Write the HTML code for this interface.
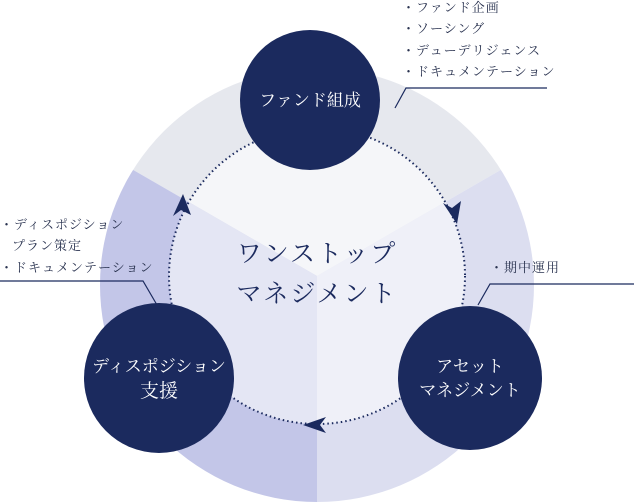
<!DOCTYPE html>
<html><head><meta charset="utf-8"><style>
html,body{margin:0;padding:0;background:#fff;width:634px;height:502px;overflow:hidden}
svg{display:block}
text{font-family:"Liberation Serif","Noto Serif CJK SC",serif}
</style></head><body>
<svg width="634" height="502" viewBox="0 0 634 502" xmlns="http://www.w3.org/2000/svg">
<defs>
<clipPath id="big"><circle cx="317" cy="285" r="217"/></clipPath>
<clipPath id="inner"><circle cx="317" cy="276" r="148"/></clipPath>
</defs>
<g clip-path="url(#big)">
<polygon points="317,276 0,93 0,0 634,0 634,93" fill="#e6e8ee"/>
<polygon points="317,276 0,93 0,502 317,502" fill="#c3c6e8"/>
<polygon points="317,276 634,93 634,502 317,502" fill="#dcdef0"/>
</g>
<g clip-path="url(#inner)">
<polygon points="317,276 0,93 0,0 634,0 634,93" fill="#f5f6f9"/>
<polygon points="317,276 0,93 0,502 317,502" fill="#e4e6f4"/>
<polygon points="317,276 634,93 634,502 317,502" fill="#eff0f8"/>
</g>
<circle cx="317" cy="276" r="148" fill="none" stroke="#1b2a5e" stroke-width="2" stroke-dasharray="1.5 3"/>
<polygon points="457,224 443,203 452,208 461,201" fill="#1b2a5e"/>
<polygon points="183,194 173,216 181,210 191,215" fill="#1b2a5e"/>
<polygon points="303,425 326,417 320,425 326,433" fill="#1b2a5e"/>
<polyline points="395,108 406,88 547,88" fill="none" stroke="#1b2a5e" stroke-width="1.2"/>
<polyline points="478,305 490,284 634,284" fill="none" stroke="#1b2a5e" stroke-width="1.2"/>
<polyline points="0,281 143,281 157,305" fill="none" stroke="#1b2a5e" stroke-width="1.2"/>
<circle cx="310" cy="100" r="70" fill="#1b2a5e"/>
<circle cx="159" cy="378" r="75" fill="#1b2a5e"/>
<circle cx="470" cy="378" r="72" fill="#1b2a5e"/>
<g fill="#fff" text-anchor="middle" font-size="17">
<text x="310" y="106">ファンド組成</text>
<text x="159" y="372">ディスポジション</text>
<text x="159" y="397" font-size="19">支援</text>
<text x="470" y="372">アセット</text>
<text x="470" y="396">マネジメント</text>
</g>
<g fill="#1b2a5e" text-anchor="middle" font-size="25">
<text x="317" y="262" letter-spacing="2">ワンストップ</text>
<text x="317" y="302" letter-spacing="2">マネジメント</text>
</g>
<g fill="#2a3350" font-size="13" letter-spacing="1">
<text x="402" y="12">・ファンド企画</text>
<text x="402" y="33">・ソーシング</text>
<text x="402" y="55">・デューデリジェンス</text>
<text x="402" y="76">・ドキュメンテーション</text>
<text x="490" y="272">・期中運用</text>
<text x="0" y="229">・ディスポジション</text>
<text x="12" y="250">プラン策定</text>
<text x="0" y="272">・ドキュメンテーション</text>
</g>
</svg>
</body></html>
